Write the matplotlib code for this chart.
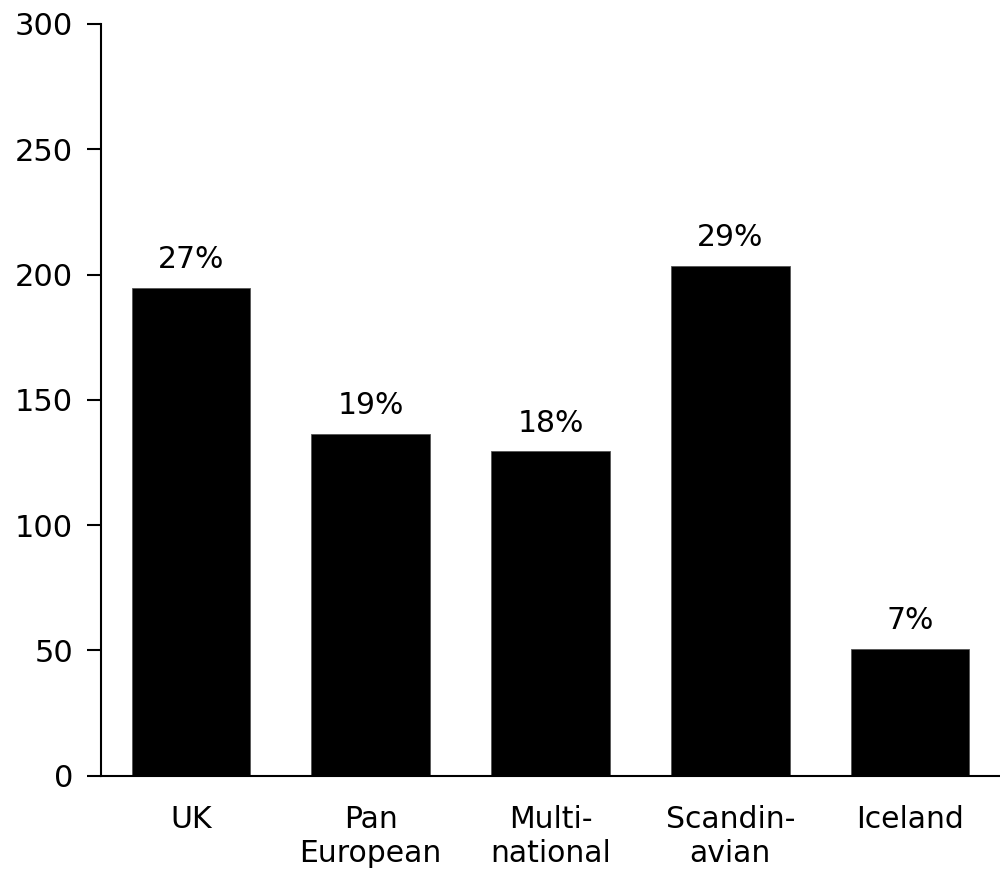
import matplotlib
matplotlib.use("Agg")
import matplotlib.pyplot as plt

categories = ["UK", "Pan\nEuropean", "Multi-\nnational", "Scandin-\navian", "Iceland"]
values = [194.6, 136.4, 129.4, 203.3, 50.4]
shares = ["27%", "19%", "18%", "29%", "7%"]
yticks = [0, 50, 100, 150, 200, 250, 300]

plt.rcParams["font.family"] = ["DejaVu Sans"]

fig = plt.figure(figsize=(10, 8.69), dpi=100)
ax = fig.add_axes([0.101, 0.1074, 0.899, 0.8650])

x = list(range(len(categories)))
bars = ax.bar(x, values, width=0.66, color="black", edgecolor="#555555", linewidth=0.6)
ax.bar_label(bars, labels=shares, padding=10, fontsize=21.5)

ax.set_xlim(-0.5, len(categories) - 0.5)
ax.set_ylim(0, 300)
ax.set_yticks(yticks)
ax.set_xticks(x)
ax.set_xticklabels(categories, fontsize=21.5, linespacing=1.22)
ax.tick_params(axis="y", length=10, width=1.5, pad=10, labelsize=22)
ax.tick_params(axis="x", length=0, pad=21)
for lbl in ax.get_xticklabels():
    lbl.set_verticalalignment("top")

for side in ("top", "right"):
    ax.spines[side].set_visible(False)
for side in ("left", "bottom"):
    ax.spines[side].set_linewidth(1.5)

fig.savefig("out.png", dpi=100, facecolor="white")
